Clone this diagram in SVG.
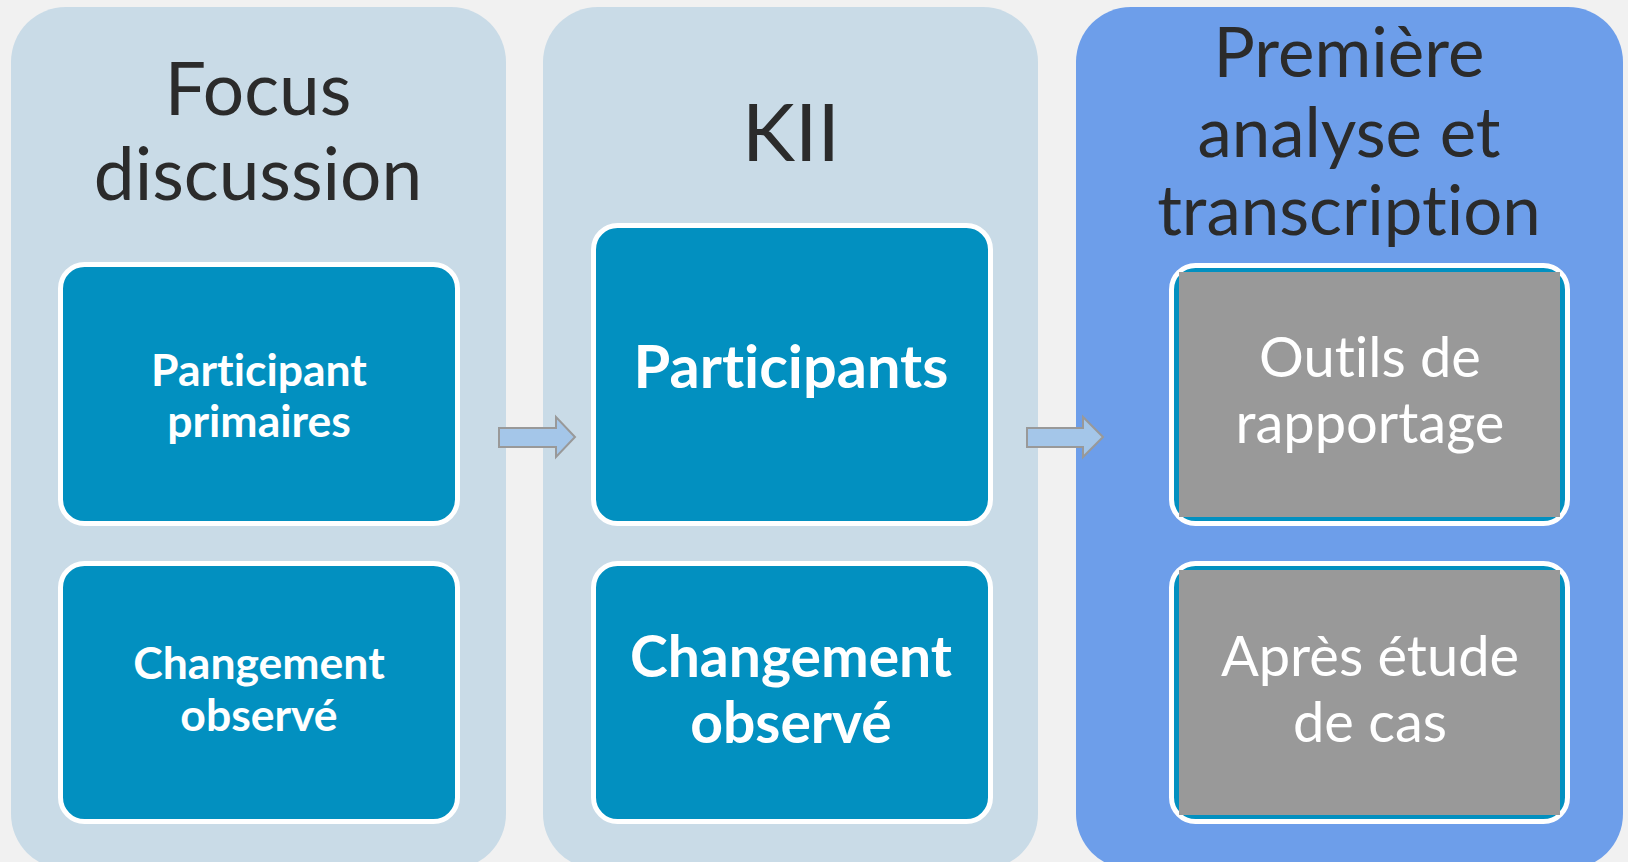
<svg xmlns="http://www.w3.org/2000/svg" width="1628" height="862" viewBox="0 0 1628 862">
<style>
.bg{fill:#f1f1f1}
.panel{fill:#c9dbe7}
.panel3{fill:#6d9eea}
.box{fill:#0290c0;stroke:#ffffff;stroke-width:5}
.gray{fill:#999999}
text{font-variant-ligatures:none;font-feature-settings:"liga" 0,"clig" 0}
.title{font-family:Lato,"Open Sans",sans-serif;fill:#2b2b2b;text-anchor:middle}
.bold{font-family:Lato,"Open Sans",sans-serif;font-weight:bold;fill:#ffffff;text-anchor:middle}
.reg{font-family:Lato,"Open Sans",sans-serif;fill:#ffffff;text-anchor:middle}
.arrow{fill:#a4c6e9;stroke:#999999;stroke-width:2;stroke-linejoin:miter}
</style>
<rect class="bg" x="0" y="0" width="1628" height="862"/>

<g id="panel-focus">
<rect class="panel" x="11" y="7" width="495" height="862" rx="55"/>
<text class="title" x="258" y="115" font-size="73">Focus</text>
<text class="title" x="258" y="200" font-size="73">discussion</text>
</g>
<g id="node-participant-primaires">
<rect class="box" x="60.5" y="264.5" width="397" height="259" rx="24"/>
<text class="bold" x="259" y="386" font-size="44.5">Participant</text>
<text class="bold" x="259" y="437" font-size="44.5">primaires</text>
</g>
<g id="node-changement-1">
<rect class="box" x="60.5" y="563.5" width="397" height="258" rx="24"/>
<text class="bold" x="259" y="679" font-size="44.5">Changement</text>
<text class="bold" x="259" y="731" font-size="44.5">observé</text>
</g>

<g id="panel-kii">
<rect class="panel" x="543" y="7" width="495" height="862" rx="55"/>
<text class="title" x="791" y="161" font-size="80">KII</text>
</g>
<g id="node-participants">
<rect class="box" x="593.5" y="225.5" width="397" height="298" rx="24"/>
<text class="bold" x="791" y="388" font-size="59.5">Participants</text>
</g>
<g id="node-changement-2">
<rect class="box" x="593.5" y="563.5" width="397" height="258" rx="24"/>
<text class="bold" x="791" y="677" font-size="57">Changement</text>
<text class="bold" x="791" y="743" font-size="57">observé</text>
</g>

<g id="panel-analyse">
<rect class="panel3" x="1076" y="7" width="547" height="862" rx="55"/>
<text class="title" x="1349" y="77" font-size="69">Première</text>
<text class="title" x="1349" y="157" font-size="69">analyse et</text>
<text class="title" x="1349" y="235" font-size="69">transcription</text>
</g>
<g id="node-outils">
<rect class="box" x="1171.5" y="265.5" width="396" height="258" rx="24"/>
<rect class="gray" x="1179" y="272" width="381" height="245"/>
<text class="reg" x="1370" y="377" font-size="56">Outils de</text>
<text class="reg" x="1370" y="443" font-size="56">rapportage</text>
</g>
<g id="node-apres">
<rect class="box" x="1171.5" y="563.5" width="396" height="258" rx="24"/>
<rect class="gray" x="1179" y="570" width="381" height="245"/>
<text class="reg" x="1370" y="676" font-size="56">Après étude</text>
<text class="reg" x="1370" y="742" font-size="56">de cas</text>
</g>

<g id="connectors">
<polygon class="arrow" points="499,428 556,428 556,417 575,437 556,457 556,447 499,447"/>
<polygon class="arrow" points="1027,428 1083,428 1083,417 1103,437 1083,457 1083,447 1027,447"/>
</g>
</svg>
